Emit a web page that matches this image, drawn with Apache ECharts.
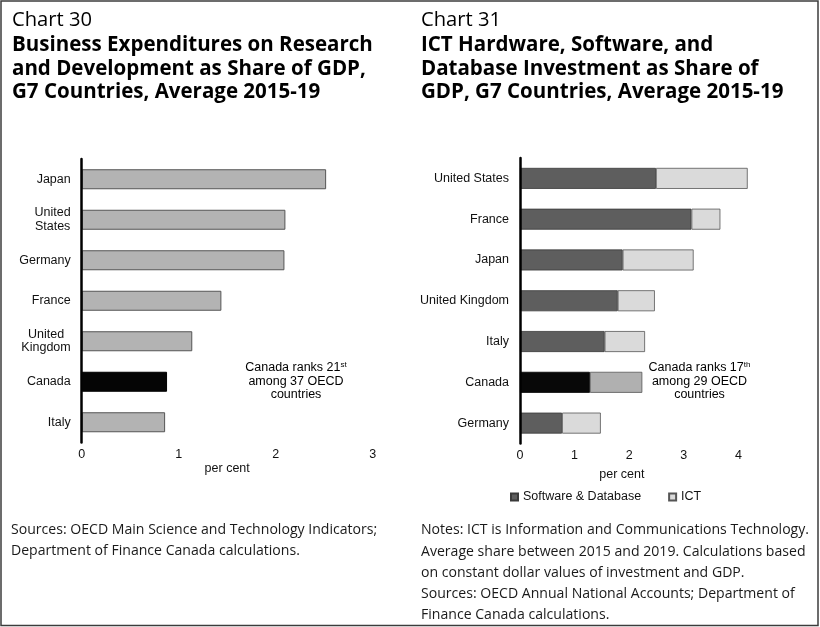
<!DOCTYPE html>
<html>
<head>
<meta charset="utf-8">
<script src="https://cdn.jsdelivr.net/npm/echarts@6/dist/echarts.min.js"></script>
<style>
html,body{margin:0;padding:0;background:#fff;}
#chart{width:820px;height:627px;}
</style>
</head>
<body>
<div id="chart"></div>
<script>
// ---- Data ----
const countriesRD = ['Japan', 'United States', 'Germany', 'France', 'United Kingdom', 'Canada', 'Italy'];
const rdShare = [2.52, 2.10, 2.09, 1.44, 1.14, 0.88, 0.86];
const ticksRD = [0, 1, 2, 3];

const countriesICT = ['United States', 'France', 'Japan', 'United Kingdom', 'Italy', 'Canada', 'Germany'];
const softwareDb = [2.49, 3.14, 1.88, 1.79, 1.55, 1.28, 0.77];
const ictHardware = [1.68, 0.53, 1.30, 0.68, 0.74, 0.96, 0.71];
const ticksICT = [0, 1, 2, 3, 4];

const seriesNames = ['Software & Database', 'ICT'];
const highlight = 'Canada';

// ---- Text ----
const title1 = ['Business Expenditures on Research', 'and Development as Share of GDP,', 'G7 Countries, Average 2015-19'];
const title2 = ['ICT Hardware, Software, and', 'Database Investment as Share of', 'GDP, G7 Countries, Average 2015-19'];
const notes1 = ['Sources: OECD Main Science and Technology Indicators;', 'Department of Finance Canada calculations.'];
const notes2 = ['Notes: ICT is Information and Communications Technology.', 'Average share between 2015 and 2019. Calculations based', 'on constant dollar values of investment and GDP.', 'Sources: OECD Annual National Accounts; Department of', 'Finance Canada calculations.'];

// ---- Font fitting helper ----
const FAM = "'Open Sans', 'Noto Sans', sans-serif";
const LAB = "'Liberation Sans', Arial, sans-serif";
const mctx = document.createElement('canvas').getContext('2d');
function fit(text, target, weight) {
  mctx.font = weight + ' 100px ' + FAM;
  return 100 * target / mctx.measureText(text).width;
}
const sChart = fit('Chart 30', 80, 'normal');
const sBold = fit(title1[0], 361, 'bold');
const sNote = Math.min(fit(notes1[0], 368, 'normal'), fit(notes2[0], 388, 'normal'));

function txt(x, y, text, size, weight, color) {
  return { type: 'text', x: x, y: y, silent: true,
    style: { text: text, font: weight + ' ' + size.toFixed(2) + 'px ' + FAM, fill: color || '#000', align: 'left', verticalAlign: 'middle' } };
}

const graphics = [
  { type: 'rect', shape: { x: 1, y: 1, width: 817, height: 624.5 }, style: { fill: 'none', stroke: '#3c3c3c', lineWidth: 1.5 }, silent: true },
  txt(12, 20.5, 'Chart 30', sChart, 'normal'),
  txt(421, 20.5, 'Chart 31', sChart, 'normal')
];
[45.5, 69, 92.5].forEach((y, i) => {
  graphics.push(txt(12, y, title1[i], sBold, 'bold'));
  graphics.push(txt(421, y, title2[i], sBold, 'bold'));
});
[530, 551].forEach((y, i) => graphics.push(txt(11, y, notes1[i], sNote, 'normal', '#1a1a1a')));
[530, 552, 573, 594, 615].forEach((y, i) => graphics.push(txt(421, y, notes2[i], sNote, 'normal', '#1a1a1a')));

const annRich = {
  a: { fontFamily: LAB, fontSize: 12.5, lineHeight: 13.5, color: '#111', align: 'center' },
  s: { fontFamily: LAB, fontSize: 8, lineHeight: 13.5, color: '#111', align: 'center', verticalAlign: 'top', padding: [0, 0, 6, 0] }
};
graphics.push({ type: 'text', x: 296, y: 361, silent: true,
  style: { text: '{a|Canada ranks 21}{s|st}\n{a|among 37 OECD}\n{a|countries}', rich: annRich, align: 'center', verticalAlign: 'top' } });
graphics.push({ type: 'text', x: 699.5, y: 361, silent: true,
  style: { text: '{a|Canada ranks 17}{s|th}\n{a|among 29 OECD}\n{a|countries}', rich: annRich, align: 'center', verticalAlign: 'top' } });

// ---- Chart ----
const chart = echarts.init(document.getElementById('chart'), null, { renderer: 'canvas' });

const catLabel = {
  margin: 11, fontFamily: LAB, fontSize: 12.5, color: '#111', lineHeight: 13.5,
  rich: { c: { fontFamily: LAB, fontSize: 12.5, color: '#111', lineHeight: 13.5, align: 'center' } }
};
const valLabel = { margin: 6, fontFamily: LAB, fontSize: 12.5, color: '#111' };
const nameStyle = { fontFamily: LAB, fontSize: 12.5, color: '#111' };

const option = {
  backgroundColor: '#fff',
  animation: false,
  graphic: graphics,
  grid: [
    { left: 81.7, top: 159, width: 291, height: 283.5 },
    { left: 520, top: 158, width: 245.7, height: 285.5 }
  ],
  legend: {
    data: seriesNames, left: 510, top: 490.5, padding: 0,
    itemWidth: 7, itemHeight: 7, itemGap: 27, icon: 'rect',
    textStyle: { fontFamily: LAB, fontSize: 12.5, color: '#111' }
  },
  xAxis: [
    { type: 'value', gridIndex: 0, min: ticksRD[0], max: ticksRD[ticksRD.length - 1], interval: 1,
      splitLine: { show: false }, axisLine: { show: false }, axisTick: { show: false },
      axisLabel: valLabel,
      name: 'per cent', nameLocation: 'middle', nameGap: 15, nameTextStyle: nameStyle },
    { type: 'value', gridIndex: 1, min: ticksICT[0], max: 4.5, interval: 1,
      splitLine: { show: false }, axisLine: { show: false }, axisTick: { show: false },
      axisLabel: Object.assign({}, valLabel, { formatter: v => ticksICT.indexOf(v) >= 0 ? String(v) : '' }),
      name: 'per cent', nameLocation: 'middle', nameGap: 25,
      nameTextStyle: Object.assign({}, nameStyle, { padding: [0, 42, 0, 0] }) }
  ],
  yAxis: [
    { type: 'category', gridIndex: 0, data: countriesRD, inverse: true, z: 5,
      axisTick: { show: false }, axisLine: { lineStyle: { color: '#000', width: 2.5 } },
      axisLabel: Object.assign({}, catLabel, {
        formatter: v => v.indexOf('United ') === 0 ? '{c|United}\n{c|' + v.slice(7) + '}' : v
      }) },
    { type: 'category', gridIndex: 1, data: countriesICT, inverse: true, z: 5,
      axisTick: { show: false }, axisLine: { lineStyle: { color: '#000', width: 2.5 } },
      axisLabel: catLabel }
  ],
  series: [
    { type: 'bar', name: 'R&D', xAxisIndex: 0, yAxisIndex: 0, barWidth: 20,
      itemStyle: { color: '#b3b3b3', borderColor: '#555', borderWidth: 1 },
      data: rdShare.map((v, i) => countriesRD[i] === highlight ? { value: v, itemStyle: { color: '#050505', borderColor: '#000' } } : v) },
    { type: 'bar', name: seriesNames[0], xAxisIndex: 1, yAxisIndex: 1, stack: 'ict', barWidth: 21,
      itemStyle: { color: '#5e5e5e', borderColor: '#3a3a3a', borderWidth: 0.8 },
      data: softwareDb.map((v, i) => countriesICT[i] === highlight ? { value: v, itemStyle: { color: '#080808', borderColor: '#000' } } : v) },
    { type: 'bar', name: seriesNames[1], xAxisIndex: 1, yAxisIndex: 1, stack: 'ict', barWidth: 21,
      itemStyle: { color: '#dadada', borderColor: '#555', borderWidth: 0.8 },
      data: ictHardware.map((v, i) => countriesICT[i] === highlight ? { value: v, itemStyle: { color: '#b0b0b0' } } : v) }
  ]
};
chart.setOption(option);
</script>
</body>
</html>
